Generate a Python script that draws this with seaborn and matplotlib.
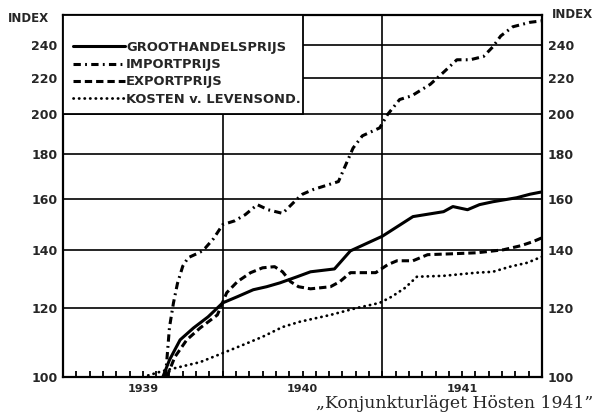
import numpy as np
import pandas as pd
import matplotlib
matplotlib.use("Agg")
import matplotlib.pyplot as plt
import seaborn as sns
from matplotlib.patches import Rectangle
from matplotlib.ticker import NullLocator

# Maanden sinds januari 1939 (0 = jan 1939, 36 = eind 1941), index aug. 1939 = 100
m_groot = [7.5, 8.0, 8.8, 9.8, 10.9, 12.0, 13.1, 14.3, 15.3, 16.3, 17.6, 18.6, 20.4,
           21.6, 24.0, 26.3, 28.6, 29.3, 30.4, 31.3, 32.3, 34.1, 35.1, 36.0]
groot = [100, 104.6, 110.3, 113.8, 117.2, 121.6, 123.6, 125.9, 126.9, 128.2, 130.3,
         132, 133, 139.5, 145, 152.7, 154.7, 156.8, 155.5, 157.6, 158.8, 160.5, 162, 163]

m_import = [7.7, 8.0, 8.3, 8.6, 9.0, 9.4, 10.3, 10.7, 11.3, 12.0, 12.9, 13.7, 14.6, 15.4,
            16.5, 17.6, 18.0, 18.8, 20.7, 21.1, 21.8, 22.5, 23.8, 24.4, 25.3, 26.2, 27.6,
            28.6, 29.6, 30.6, 31.6, 32.3, 32.9, 33.8, 35.1, 36.0]
importprijs = [100, 114, 121.6, 128, 134, 137, 139, 140.6, 144, 149.5, 151, 153.5, 157.6,
               155.5, 154, 160, 162, 164, 167.5, 173, 183, 189, 193, 200, 208, 210, 216.5,
               223.5, 231, 231, 233, 239, 246, 252, 255, 256]

m_export = [7.8, 8.4, 9.3, 10.3, 11.6, 12.3, 13.1, 14.1, 15.0, 15.9, 16.5, 17.1, 17.7,
            18.6, 20.1, 20.8, 21.6, 23.5, 24.4, 25.1, 26.3, 27.4, 29.1, 31.1, 33.1, 34.4,
            35.3, 36.0]
exportprijs = [100, 105.4, 110.3, 113.8, 117.8, 124.9, 128.6, 131.7, 133.4, 133.8, 132,
               128.6, 126.9, 126.2, 126.9, 128.6, 131.7, 131.7, 134.5, 135.9, 135.9, 138.1,
               138.4, 138.8, 139.9, 141.4, 142.9, 144.4]

m_kosten = [6.0, 7.5, 8.8, 10.3, 12.0, 13.5, 15.0, 16.5, 17.8, 20.1, 22.1, 23.8, 24.7,
            25.7, 26.6, 28.6, 31.1, 32.3, 33.6, 34.9, 36.0]
kosten = [100, 101.6, 102.7, 104.0, 106.5, 108.8, 111.2, 114.1, 115.7, 117.8, 120, 121.6,
          123.6, 126.5, 130.3, 130.6, 131.7, 132, 133.8, 135.2, 137.4]

y_ticks = [100, 120, 140, 160, 180, 200, 220, 240]
jaren = ["1939", "1940", "1941"]

sns.set_style("white")
plt.rcParams["font.family"] = ["DejaVu Sans"]

fig = plt.figure(figsize=(5.98, 4.2), dpi=100)
ax = fig.add_axes([0.1054, 0.1024, 0.801, 0.862])

lw = 2.2
sns.lineplot(x=m_groot, y=groot, ax=ax, color="black", lw=lw, label="GROOTHANDELSPRIJS")
sns.lineplot(x=m_import, y=importprijs, ax=ax, color="black", lw=lw,
             linestyle=(0, (2.4, 1.4, 0.6, 1.4)), label="IMPORTPRIJS")
sns.lineplot(x=m_export, y=exportprijs, ax=ax, color="black", lw=lw,
             linestyle=(0, (2.4, 1.3)), label="EXPORTPRIJS")
sns.lineplot(x=m_kosten, y=kosten, ax=ax, color="black", lw=2.0,
             linestyle=(0, (0.1, 1.9)), dash_capstyle="round", label="KOSTEN v. LEVENSOND.")

ax.set_yscale("log")
ax.set_ylim(100, 260)
ax.set_xlim(0, 36)
ax.set_yticks(y_ticks, [str(t) for t in y_ticks])
ax.yaxis.set_minor_locator(NullLocator())
ax.tick_params(axis="y", which="both", length=0, labelleft=True, labelright=True,
               labelsize=9, pad=4)
for lab in ax.get_yticklabels():
    lab.set_fontweight("bold")

ax.set_xticks([6, 18, 30], jaren)
ax.set_xticks(range(1, 36), minor=True)
ax.tick_params(axis="x", which="both", direction="in", length=4.5, width=1.3,
               color="black", labelsize=8, pad=5, bottom=True)
for lab in ax.get_xticklabels():
    lab.set_fontweight("bold")

# raster
for t in y_ticks[1:]:
    ax.axhline(t, color="black", lw=1.2, zorder=1)
for m in [12, 24]:
    ax.axvline(m, color="black", lw=1.2, zorder=1)

for s in ax.spines.values():
    s.set_color("black")
    s.set_linewidth(1.6)

# legendablok linksboven
ax.add_patch(Rectangle((0, 200), 18, 60, facecolor="white", edgecolor="black",
                       lw=1.3, zorder=3))
ax.legend(loc="upper left", bbox_to_anchor=(0.021, 0.928), frameon=False,
          prop={"weight": "bold", "size": 9.4}, handlelength=4.0,
          handletextpad=0.05, labelspacing=0.32, borderpad=0, borderaxespad=0)

ax.set_xlabel("")
ax.set_ylabel("")

fig.text(8 / 598, 1 - 19 / 420, "INDEX", fontsize=8.5, fontweight="bold", va="center")
fig.text(552 / 598, 1 - 15 / 420, "INDEX", fontsize=8.5, fontweight="bold", va="center")
fig.text(316 / 598, 1 - 403 / 420, "\u201eKonjunkturläget Hösten 1941\u201d",
         family="DejaVu Serif", fontsize=12.4, va="center")

fig.savefig("out.png", dpi=100)
